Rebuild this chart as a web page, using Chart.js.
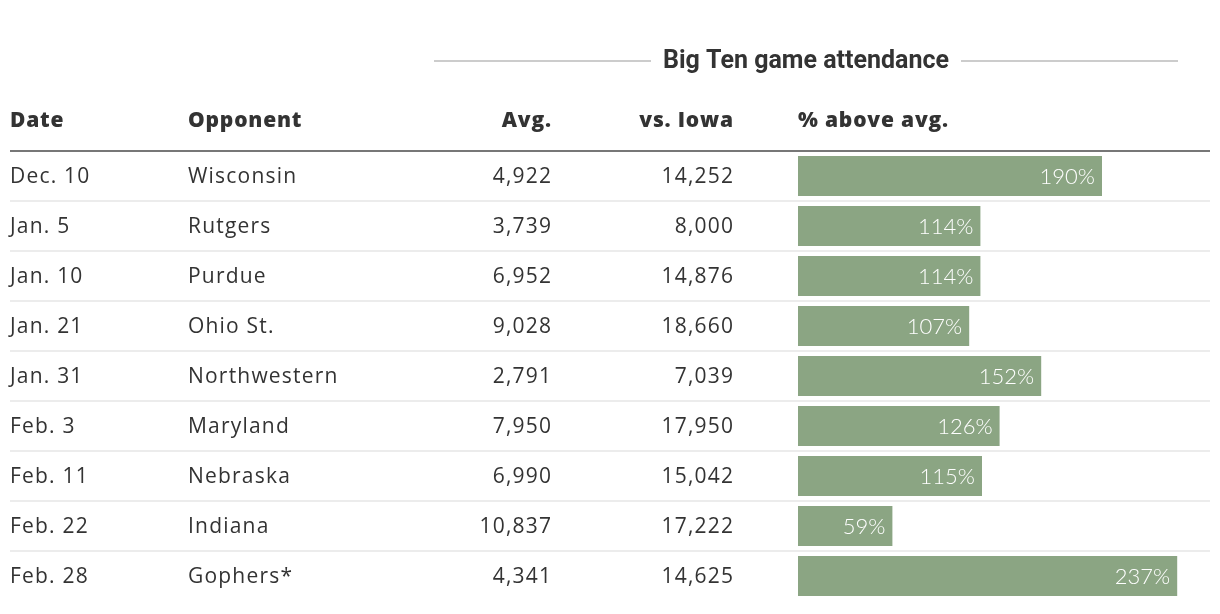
<!DOCTYPE html>
<html>
<head>
<meta charset="utf-8">
<script src="https://cdn.jsdelivr.net/npm/chart.js@4"></script>
<style>
  html, body { margin: 0; padding: 0; background: #fff; }
  #wrap { width: 1220px; height: 614px; position: relative; }
</style>
</head>
<body>
<div id="wrap"><canvas id="attendanceChart"></canvas></div>
<script>
const dates = ['Dec. 10', 'Jan. 5', 'Jan. 10', 'Jan. 21', 'Jan. 31', 'Feb. 3', 'Feb. 11', 'Feb. 22', 'Feb. 28'];
const opponents = ['Wisconsin', 'Rutgers', 'Purdue', 'Ohio St.', 'Northwestern', 'Maryland', 'Nebraska', 'Indiana', 'Gophers*'];
const avgAttendance = [4922, 3739, 6952, 9028, 2791, 7950, 6990, 10837, 4341];
const iowaAttendance = [14252, 8000, 14876, 18660, 7039, 17950, 15042, 17222, 14625];
const pctAbove = [190, 114, 114, 107, 152, 126, 115, 59, 237];
const headers = ['Date', 'Opponent', 'Avg.', 'vs. Iowa', '% above avg.'];
const title = 'Big Ten game attendance';

const FONT = '"Open Sans", Roboto, sans-serif';
const TITLE_FONT = 'Roboto, "Open Sans", sans-serif';
const LABEL_FONT = 'Lato, "Open Sans", sans-serif';
const TEXT = '#333';

// column anchors (x, align)
const cols = [
    { x: 10, align: 'left' },
    { x: 188, align: 'left' },
    { x: 551, align: 'right' },
    { x: 733, align: 'right' },
    { x: 798, align: 'left' }
];

const fmt = n => n.toLocaleString('en-US');

// letter spacing adds a gap after the last glyph too, so push right-aligned text over
function cellText(ctx, t, col, yy, spacing) {
    ctx.textAlign = col.align;
    const xx = col.align === 'right' ? col.x + spacing : col.x;
    ctx.fillText(t, xx, yy);
}

const tablePlugin = {
    id: 'tableText',
    beforeDatasetsDraw(chart) {
        const ctx = chart.ctx;
        const y = chart.scales.y;
        const area = chart.chartArea;
        const step = y.getPixelForValue(1) - y.getPixelForValue(0);
        ctx.save();
        // row separators
        ctx.strokeStyle = '#ececec';
        ctx.lineWidth = 2;
        for (let i = 0; i < dates.length - 1; i++) {
            const yy = Math.round(y.getPixelForValue(i) + step / 2);
            ctx.beginPath();
            ctx.moveTo(10, yy);
            ctx.lineTo(1210, yy);
            ctx.stroke();
        }
        // header rule
        ctx.strokeStyle = '#777';
        ctx.beginPath();
        ctx.moveTo(10, area.top);
        ctx.lineTo(1210, area.top);
        ctx.stroke();
        ctx.restore();
    },
    afterDatasetsDraw(chart) {
        const ctx = chart.ctx;
        const y = chart.scales.y;
        const x = chart.scales.x;
        ctx.save();
        ctx.textBaseline = 'middle';

        // title with side rules
        ctx.font = 'bold 25px ' + TITLE_FONT;
        ctx.fillStyle = TEXT;
        ctx.textAlign = 'center';
        ctx.fillText(title, 806, 62);
        const tw = ctx.measureText(title).width;
        ctx.strokeStyle = '#ccc';
        ctx.lineWidth = 2;
        ctx.beginPath();
        ctx.moveTo(434, 61); ctx.lineTo(806 - tw / 2 - 12, 61);
        ctx.moveTo(806 + tw / 2 + 12, 61); ctx.lineTo(1178, 61);
        ctx.stroke();

        // column headers
        ctx.font = '800 21px ' + FONT;
        ctx.letterSpacing = '0.8px';
        headers.forEach((h, c) => cellText(ctx, h, cols[c], 121, 0.8));

        // body cells
        ctx.font = '21px ' + FONT;
        ctx.letterSpacing = '1.2px';
        dates.forEach((d, i) => {
            const yy = y.getPixelForValue(i) + 1;
            const cells = [d, opponents[i], fmt(avgAttendance[i]), fmt(iowaAttendance[i])];
            cells.forEach((t, c) => cellText(ctx, t, cols[c], yy, 1.2));
        });

        // bar labels
        ctx.letterSpacing = '0px';
        ctx.font = '300 22px ' + LABEL_FONT;
        ctx.fillStyle = '#fff';
        ctx.textAlign = 'right';
        pctAbove.forEach((v, i) => {
            ctx.fillText(v + '%', x.getPixelForValue(v) - 7, y.getPixelForValue(i) + 1);
        });
        ctx.restore();
    }
};

new Chart(document.getElementById('attendanceChart'), {
    type: 'bar',
    data: {
        labels: opponents,
        datasets: [{
            data: pctAbove,
            backgroundColor: '#8ba583',
            barPercentage: 0.8,
            categoryPercentage: 1
        }]
    },
    options: {
        indexAxis: 'y',
        responsive: true,
        maintainAspectRatio: false,
        animation: false,
        layout: { padding: { left: 798, right: 10, top: 151, bottom: 13 } },
        scales: {
            x: { display: false, min: 0, max: 257.5 },
            y: { display: false }
        },
        plugins: {
            legend: { display: false },
            tooltip: { enabled: false }
        }
    },
    plugins: [tablePlugin]
});
</script>
</body>
</html>
